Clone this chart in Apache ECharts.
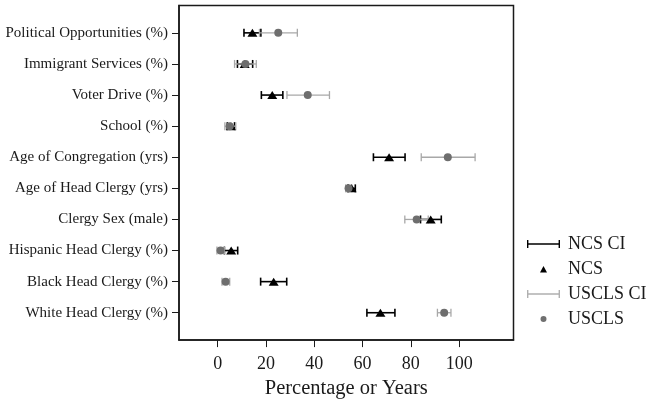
<!DOCTYPE html>
<html>
<head>
<meta charset="utf-8">
<script src="https://cdn.jsdelivr.net/npm/echarts@6/dist/echarts.min.js"></script>
<style>
  html, body { margin: 0; padding: 0; background: #fff; }
  #chart { width: 649px; height: 404px; }
</style>
</head>
<body>
<div id="chart"></div>
<script>
// categories top to bottom
const categories = [
    'Political Opportunities (%)',
    'Immigrant Services (%)',
    'Voter Drive (%)',
    'School (%)',
    'Age of Congregation (yrs)',
    'Age of Head Clergy (yrs)',
    'Clergy Sex (male)',
    'Hispanic Head Clergy (%)',
    'Black Head Clergy (%)',
    'White Head Clergy (%)'
]
const ncsMean   = [14.4, 11.2, 22.6, 5.5, 71.0, 55.5, 88.2, 5.6, 23.2, 67.4]
const ncsLow    = [10.9, 8.2, 18.1, 4.0, 64.5, 54.0, 84.0, 2.8, 17.8, 61.8]
const ncsHigh   = [17.9, 14.5, 27.0, 7.0, 77.6, 57.0, 92.6, 8.3, 28.6, 73.4]
const usclsMean = [25.1, 11.5, 37.3, 5.0, 95.3, 54.2, 82.4, 1.2, 3.3, 93.8]
const usclsLow  = [17.3, 7.0, 28.7, 3.0, 84.3, 53.0, 77.5, -0.3, 1.8, 91.0]
const usclsHigh = [33.0, 16.0, 46.3, 7.5, 106.6, 55.5, 87.2, 2.8, 5.0, 96.6]
const xTicks = [0, 20, 40, 60, 80, 100]

const rows = categories.map((c, i) => i + 1)
const font = "'Liberation Serif', 'Times New Roman', serif"
const ink = '#1a1a1a'

function ciRender(color, width) {
    return function (params, api) {
        const a = api.coord([api.value(0), api.value(2)])
        const b = api.coord([api.value(1), api.value(2)])
        const h = 4
        const style = { stroke: color, lineWidth: width }
        return {
            type: 'group',
            children: [
                { type: 'line', shape: { x1: a[0], y1: a[1], x2: b[0], y2: b[1] }, style: style },
                { type: 'line', shape: { x1: a[0], y1: a[1] - h, x2: a[0], y2: a[1] + h }, style: style },
                { type: 'line', shape: { x1: b[0], y1: b[1] - h, x2: b[0], y2: b[1] + h }, style: style }
            ]
        }
    }
}

// legend icons drawn in a 36x8 box (corner moves fix the box), marks use 0..33
const box = 'M0 0Z M36 8Z '
const ciIcon = 'path://' + box + 'M0 0 L1.4 0 L1.4 3.3 L31.6 3.3 L31.6 0 L33 0 L33 8 L31.6 8 L31.6 4.7 L1.4 4.7 L1.4 8 L0 8 Z'
const triIcon = 'path://' + box + 'M16.5 1 L20 7.5 L13 7.5 Z'
const dotIcon = 'path://' + box + 'M19.5 4 A3 3 0 1 1 13.5 4 A3 3 0 1 1 19.5 4 Z'

const chart = echarts.init(document.getElementById('chart'))
chart.setOption({
    animation: false,
    textStyle: { fontFamily: font },
    grid: {
        left: 179, right: 135.5, top: 5.5, bottom: 61.5,
        show: true, borderColor: ink, borderWidth: 1.5
    },
    xAxis: {
        type: 'value',
        min: -16,
        max: 122.5,
        name: 'Percentage or Years',
        nameLocation: 'middle',
        nameGap: 34,
        nameTextStyle: { color: ink, fontSize: 20.5, fontFamily: font },
        axisLine: { show: true, onZero: false, lineStyle: { color: ink, width: 1.5 } },
        axisTick: { show: true, length: 7, customValues: xTicks, lineStyle: { color: ink } },
        axisLabel: { customValues: xTicks, color: ink, fontSize: 18, margin: 15, fontFamily: font },
        splitLine: { show: false }
    },
    yAxis: {
        type: 'value',
        min: 0.12,
        max: 10.88,
        inverse: true,
        axisLine: { show: true, onZero: false, lineStyle: { color: ink, width: 1.5 } },
        axisTick: { show: true, length: 7, customValues: rows, lineStyle: { color: ink } },
        axisLabel: {
            customValues: rows,
            color: ink, fontSize: 15, margin: 11, fontFamily: font,
            formatter: function (v) { return categories[Math.round(v) - 1] || '' }
        },
        splitLine: { show: false }
    },
    legend: {
        orient: 'vertical',
        left: 522,
        top: 230,
        itemWidth: 36,
        itemHeight: 8,
        itemGap: 7,
        textStyle: { fontSize: 18, color: ink, fontFamily: font },
        data: [
            { name: 'NCS CI', icon: ciIcon, itemStyle: { color: '#000' } },
            { name: 'NCS', icon: triIcon, itemStyle: { color: '#000' } },
            { name: 'USCLS CI', icon: ciIcon, itemStyle: { color: '#b0b0b0' } },
            { name: 'USCLS', icon: dotIcon, itemStyle: { color: '#707070' } }
        ]
    },
    series: [
        {
            name: 'NCS CI',
            type: 'custom',
            renderItem: ciRender('#000', 1.6),
            encode: { x: [0, 1], y: 2 },
            itemStyle: { color: '#000' },
            data: rows.map((r, i) => [ncsLow[i], ncsHigh[i], r])
        },
        {
            name: 'NCS',
            type: 'scatter',
            symbol: 'triangle',
            symbolSize: [10, 8],
            itemStyle: { color: '#000', opacity: 1 },
            data: rows.map((r, i) => [ncsMean[i], r])
        },
        {
            name: 'USCLS CI',
            type: 'custom',
            renderItem: ciRender('#a8a8a8', 1.3),
            encode: { x: [0, 1], y: 2 },
            itemStyle: { color: '#a8a8a8' },
            data: rows.map((r, i) => [usclsLow[i], usclsHigh[i], r])
        },
        {
            name: 'USCLS',
            type: 'scatter',
            symbol: 'circle',
            symbolSize: 8,
            itemStyle: { color: '#6e6e6e', opacity: 1 },
            data: rows.map((r, i) => [usclsMean[i], r])
        }
    ]
})
</script>
</body>
</html>
